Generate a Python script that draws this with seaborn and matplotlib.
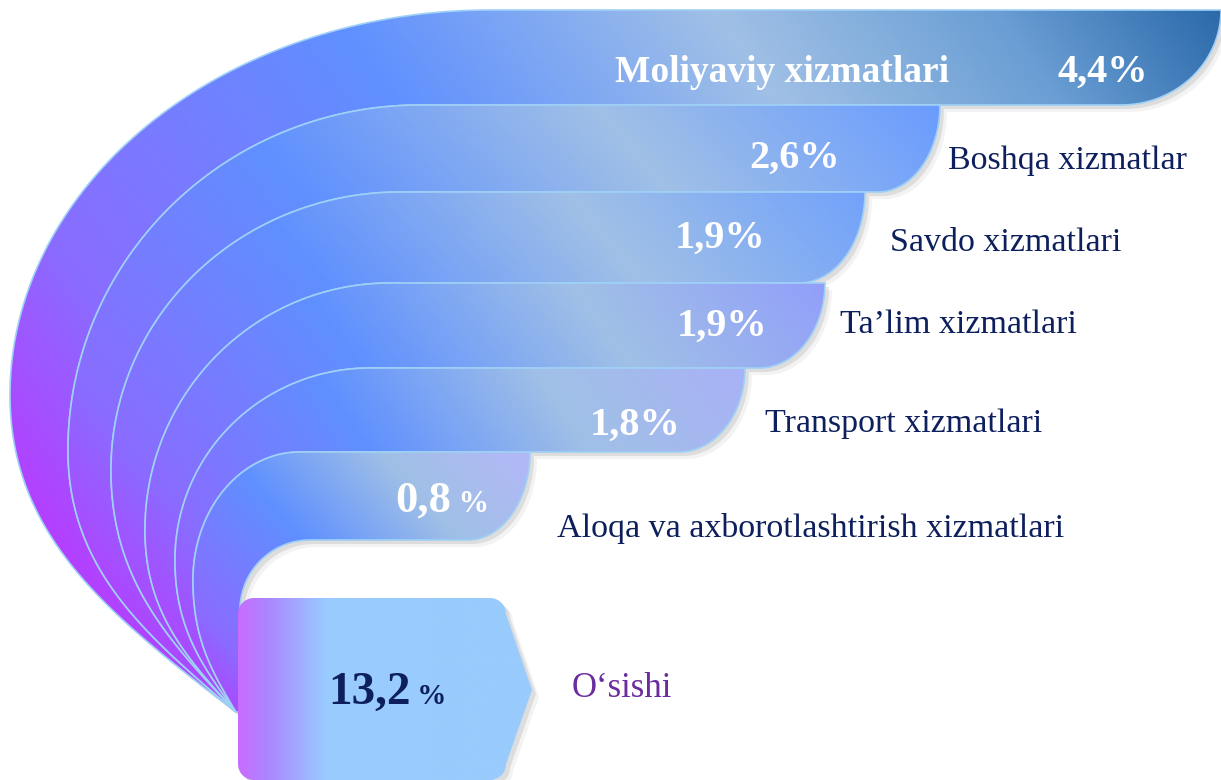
import numpy as np
import matplotlib
matplotlib.use("Agg")
import matplotlib.pyplot as plt
from matplotlib.path import Path
from matplotlib.patches import PathPatch
from matplotlib.colors import LinearSegmentedColormap
import seaborn as sns

# data
categories = ['Moliyaviy xizmatlari', 'Boshqa xizmatlar', 'Savdo xizmatlari',
              'Ta’lim xizmatlari', 'Transport xizmatlari',
              'Aloqa va axborotlashtirish xizmatlari']
growth = [4.4, 2.6, 1.9, 1.9, 1.8, 0.8]
total_growth = 13.2
total_label = 'O‘sishi'

# layout (pixels, y down)
band_top = [10, 105, 192, 283, 368, 452]
band_bottom_last = 540
band_right = [1221, 940, 865, 825, 745, 530]
band_round = [100, 62, 66, 66, 66, 62]
curve_left = [10, 68, 111, 145, 175, 193]
curve_mid = [395, 450, 470, 530, 560, 580]
curve_flat = [490, 420, 400, 390, 370, 300]
end_colors = ['#2c6aaa', '#6a9cff', '#72a2fb', '#929ffa', '#a9b2f7', '#b3b8f8']
origin = (236, 712)

navy = '#0d1f5c'
sns.set_theme(style="white")
plt.rcParams['font.family'] = ['Liberation Serif', 'DejaVu Serif']

fig = plt.figure(figsize=(12.21, 7.8), dpi=100)
ax = fig.add_axes([0, 0, 1, 1])
ax.set_xlim(0, 1221)
ax.set_ylim(780, 0)
ax.axis('off')


def fmt(v):
    return f'{v:.1f}'.replace('.', ',')


def outer_curve(k, n=80):
    x0, y0 = origin
    xl, ym, xh, top = curve_left[k], curve_mid[k], curve_flat[k], band_top[k]
    s = np.linspace(0, 1, n)[:, None]
    p0 = np.array([x0, y0])
    p1 = np.array([xl + 0.45 * (x0 - xl), y0 - 0.3 * (y0 - ym)])
    p2 = np.array([xl, ym + 0.45 * (y0 - ym)])
    p3 = np.array([xl, ym])
    low = (1 - s) ** 3 * p0 + 3 * (1 - s) ** 2 * s * p1 + 3 * (1 - s) * s ** 2 * p2 + s ** 3 * p3
    t = np.linspace(0, np.pi / 2, n)
    up = np.column_stack([xh - (xh - xl) * np.cos(t), ym - (ym - top) * np.sin(t)])
    return np.vstack([low, up[1:]])


def band_verts(k):
    top = band_top[k]
    bot = band_top[k + 1] if k < len(band_top) - 1 else band_bottom_last
    xr, rw = band_right[k], band_round[k]
    t = np.linspace(0, np.pi / 2, 50)
    right = np.column_stack([xr - rw + rw * np.cos(t), top + (bot - top) * np.sin(t)])
    if k < len(band_top) - 1:
        inner = outer_curve(k + 1)[::-1]
    else:
        a = np.linspace(0, np.pi / 2, 30)
        corner = np.column_stack([310 - 70 * np.sin(a), 610 - 70 * np.cos(a)])
        inner = np.vstack([corner, [[240, 712]]])
    return np.vstack([outer_curve(k), right, inner])


def gradient_patch(verts, cmap, a, b, tlim, z, edge=None):
    path = Path(np.vstack([verts, verts[:1]]), closed=True)
    # soft shadow
    for off, al in [(7, 0.06), (4, 0.12)]:
        sh = Path(np.vstack([verts, verts[:1]]) + off, closed=True)
        ax.add_patch(PathPatch(sh, facecolor='#404040', edgecolor='none', alpha=al, zorder=z))
    patch = PathPatch(path, facecolor='none', edgecolor='none', zorder=z + 1)
    ax.add_patch(patch)
    x0, y0 = verts.min(0)
    x1, y1 = verts.max(0)
    X, Y = np.meshgrid(np.linspace(x0, x1, 500), np.linspace(y0, y1, 350))
    d = np.array(b, float) - np.array(a, float)
    T = ((X - a[0]) * d[0] + (Y - a[1]) * d[1]) / (d @ d)
    im = ax.imshow(T, cmap=cmap, vmin=tlim[0], vmax=tlim[1], extent=(x0, x1, y0, y1),
                   origin='lower', zorder=z + 1, interpolation='bilinear', aspect='auto')
    im.set_clip_path(patch)
    if edge:
        ax.add_patch(PathPatch(path, facecolor='none', edgecolor=edge, lw=1.2, zorder=z + 2))


def band_cmap(k):
    tmin, tmax = -0.05, 1.0
    if k == 0:
        stops = [(-0.05, '#b63dff'), (0.1, '#8a6cff'), (0.4, '#5f90ff'),
                 (0.66, '#a0c0e6'), (0.85, '#6a9ed4'), (1.0, end_colors[0])]
    else:
        stops = [(-0.05, '#b63dff'), (0.1, '#8a6cff'), (0.42, '#5f90ff'),
                 (0.72, '#a0c0e6'), (1.0, end_colors[k])]
    return LinearSegmentedColormap.from_list(
        f'band{k}', [((p - tmin) / (tmax - tmin), c) for p, c in stops]), (tmin, tmax)


for k in range(len(categories)):
    cmap, tlim = band_cmap(k)
    gradient_patch(band_verts(k), cmap, origin, (band_right[k], band_top[k]), tlim,
                   10 + 3 * k, edge='#9fd0f6')

# total box
bx0, bx1, by0, by1, r = 238, 506, 598, 780, 16
tip = (532, 690)
a = np.linspace(0, np.pi / 2, 20)
box = np.vstack([
    np.column_stack([bx0 + r - r * np.cos(a), by0 + r - r * np.sin(a)]),
    np.column_stack([bx1 - r + r * np.sin(a), by0 + r - r * np.cos(a)]),
    [tip],
    np.column_stack([bx1 - r + r * np.cos(a), by1 - r + r * np.sin(a)]),
    np.column_stack([bx0 + r - r * np.sin(a), by1 - r + r * np.cos(a)]),
])
box_cmap = LinearSegmentedColormap.from_list(
    'box', [(0, '#c86cff'), (0.1, '#ab86ff'), (0.3, '#99ccff'), (1, '#99cbfd')])
gradient_patch(box, box_cmap, (bx0, 0), (tip[0], 0), (0, 1), 40)

# labels
val_pos = [(1058, 82), (749, 168), (675, 248), (677, 336), (590, 435), (395, 512)]
cat_pos = [(615, 82), (948, 169), (890, 251), (840, 333), (765, 432), (557, 537)]
num_texts = []
for k, (name, v) in enumerate(zip(categories, growth)):
    if k == 0:
        ax.text(*cat_pos[k], name, color='white', fontsize=27, fontweight='bold',
                va='baseline', zorder=60)
    else:
        ax.text(*cat_pos[k], name, color=navy, fontsize=24.5, va='baseline', zorder=60)
    if k == len(categories) - 1:
        t = ax.text(*val_pos[k], fmt(v), color='white', fontsize=32,
                    fontweight='bold', va='baseline', zorder=60)
        num_texts.append((t, ' %', 22, 'white'))
    else:
        ax.text(*val_pos[k], fmt(v) + '%', color='white', fontsize=29,
                fontweight='bold', va='baseline', zorder=60)

t = ax.text(328, 704, fmt(total_growth), color=navy, fontsize=34, fontweight='bold',
            va='baseline', zorder=60)
num_texts.append((t, ' %', 21, navy))
ax.text(572, 697, total_label, color='#6a2c9e', fontsize=25, va='baseline', zorder=60)

# smaller percent signs right after the numbers, on the same baseline
fig.canvas.draw()
renderer = fig.canvas.get_renderer()
inv = ax.transData.inverted()
for t, sign, size, color in num_texts:
    bb = t.get_window_extent(renderer)
    xr = inv.transform((bb.x1, bb.y0))[0]
    ax.text(xr, t.get_position()[1], sign, color=color, fontsize=size,
            fontweight='bold', va='baseline', zorder=60)

fig.savefig('out.png', dpi=100)
